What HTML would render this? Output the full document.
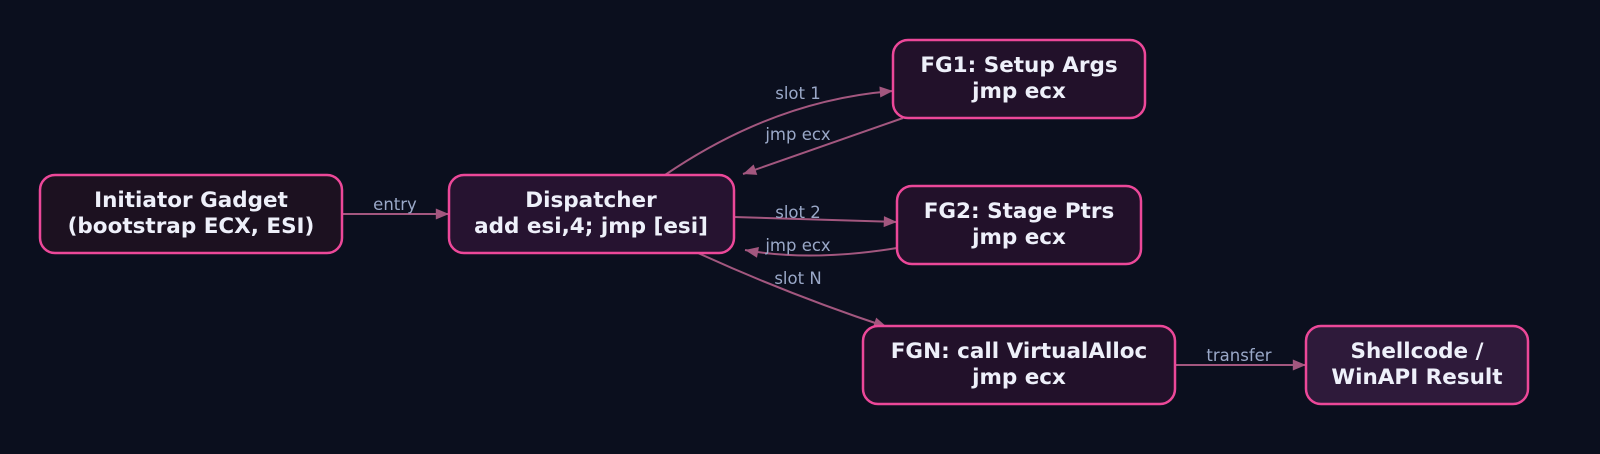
<!DOCTYPE html>
<html><head><meta charset="utf-8"><style>
html,body{margin:0;padding:0;background:#0b0f1e;overflow:hidden;}
svg{display:block;}
.n{stroke:#ec4899;stroke-width:2.5;}
.t{font-family:"DejaVu Sans","Liberation Sans",sans-serif;font-weight:bold;font-size:21.5px;fill:#eef0fa;text-anchor:middle;}
.l{font-family:"DejaVu Sans","Liberation Sans",sans-serif;font-size:16.5px;fill:#9aa8c8;text-anchor:middle;}
.e{stroke:#a3577f;stroke-width:2;fill:none;}
</style></head><body>
<svg width="1600" height="454" viewBox="0 0 1600 454">
<defs>
<marker id="b" viewBox="0 0 12 10" refX="12" refY="5" markerWidth="14" markerHeight="11" orient="auto" markerUnits="userSpaceOnUse"><path d="M0,0L12,5L0,10z" fill="#a3577f"/></marker></defs>
<rect width="1600" height="454" fill="#0b0f1e"/>
<g>
<path class="e" style="marker-end:url(#b)" d="M342,214 L449,214"/>
<path class="e" style="marker-end:url(#b)" d="M665,175 Q775,100 893,91"/>
<path class="e" style="marker-end:url(#b)" d="M903,118 L743,174"/>
<path class="e" style="marker-end:url(#b)" d="M734,217 L897,222"/>
<path class="e" style="marker-end:url(#b)" d="M897,248 Q810,262 745,250"/>
<path class="e" style="marker-end:url(#b)" d="M698,253 Q790,295 887,327"/>
<path class="e" style="marker-end:url(#b)" d="M1175,365 L1306,365"/>
</g>
<text class="l" x="395" y="210">entry</text>
<text class="l" x="798" y="99">slot 1</text>
<text class="l" x="798" y="140">jmp ecx</text>
<text class="l" x="798" y="218">slot 2</text>
<text class="l" x="798" y="251">jmp ecx</text>
<text class="l" x="798" y="284">slot N</text>
<text class="l" x="1239" y="361">transfer</text>

<rect class="n" x="40" y="175" width="302" height="78" rx="15" fill="#1c1120"/>
<text class="t" x="191" y="207">Initiator Gadget</text>
<text class="t" x="191" y="233">(bootstrap ECX, ESI)</text>

<rect class="n" x="449" y="175" width="285" height="78" rx="15" fill="#261330"/>
<text class="t" x="591" y="207">Dispatcher</text>
<text class="t" x="591" y="233">add esi,4; jmp [esi]</text>

<rect class="n" x="893" y="40" width="252" height="78" rx="15" fill="#22112a"/>
<text class="t" x="1019" y="72">FG1: Setup Args</text>
<text class="t" x="1019" y="98">jmp ecx</text>

<rect class="n" x="897" y="186" width="244" height="78" rx="15" fill="#22112a"/>
<text class="t" x="1019" y="218">FG2: Stage Ptrs</text>
<text class="t" x="1019" y="244">jmp ecx</text>

<rect class="n" x="863" y="326" width="312" height="78" rx="15" fill="#22112a"/>
<text class="t" x="1019" y="358">FGN: call VirtualAlloc</text>
<text class="t" x="1019" y="384">jmp ecx</text>

<rect class="n" x="1306" y="326" width="222" height="78" rx="15" fill="#2e1a3a"/>
<text class="t" x="1417" y="358">Shellcode /</text>
<text class="t" x="1417" y="384">WinAPI Result</text>
</svg>
</body></html>
